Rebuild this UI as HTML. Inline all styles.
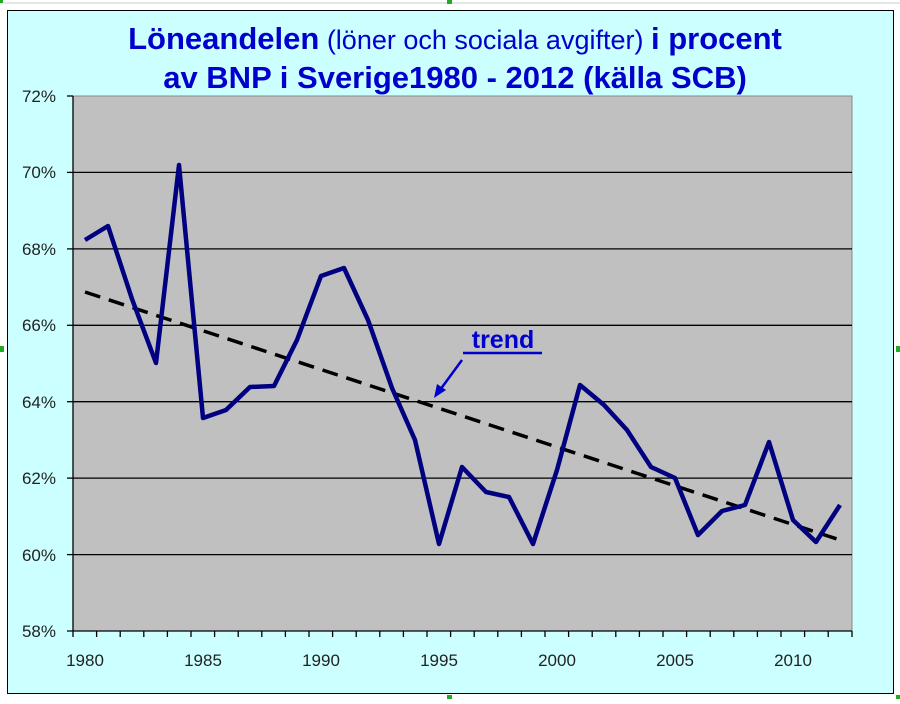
<!DOCTYPE html>
<html><head><meta charset="utf-8"><style>
body{margin:0;background:#fff;width:900px;height:699px;overflow:hidden;font-family:"Liberation Sans",sans-serif}
</style></head><body>
<svg width="900" height="699" xmlns="http://www.w3.org/2000/svg" font-family="Liberation Sans, sans-serif">
<rect x="0" y="0" width="900" height="699" fill="#fff"/>
<line x1="0" y1="3" x2="900" y2="3" stroke="#ccc"/>
<rect x="7.5" y="10.5" width="886" height="683" fill="#ccffff" stroke="#000" stroke-width="1"/>
<rect x="0" y="0" width="3" height="3" fill="#2a2"/>
<rect x="447" y="0" width="5" height="4" fill="#2a2"/>
<rect x="0" y="346" width="4" height="6" fill="#2a2"/>
<rect x="896" y="346" width="4" height="6" fill="#2a2"/>
<rect x="447" y="695" width="5" height="4" fill="#2a2"/>
<rect x="896" y="695" width="4" height="4" fill="#2a2"/>
<text x="455" y="49" text-anchor="middle" font-size="31" fill="#0000cc"><tspan font-weight="bold">Löneandelen</tspan><tspan font-size="27"> (löner och sociala avgifter) </tspan><tspan font-weight="bold">i procent</tspan></text>
<text x="455" y="88" text-anchor="middle" font-size="31" font-weight="bold" fill="#0000cc">av BNP i Sverige1980 - 2012 (källa SCB)</text>
<rect x="73" y="96" width="779" height="535" fill="#c0c0c0" stroke="#888"/>
<g stroke="#000" stroke-width="1.3">
<line x1="73" y1="172.4" x2="852" y2="172.4"/><line x1="73" y1="248.9" x2="852" y2="248.9"/>
<line x1="73" y1="325.3" x2="852" y2="325.3"/><line x1="73" y1="401.7" x2="852" y2="401.7"/>
<line x1="73" y1="478.1" x2="852" y2="478.1"/><line x1="73" y1="554.6" x2="852" y2="554.6"/>
<line x1="73" y1="96" x2="73" y2="631"/><line x1="67" y1="631" x2="852" y2="631"/>
<line x1="67" y1="96" x2="73" y2="96"/><line x1="67" y1="172.4" x2="73" y2="172.4"/><line x1="67" y1="248.9" x2="73" y2="248.9"/><line x1="67" y1="325.3" x2="73" y2="325.3"/><line x1="67" y1="401.7" x2="73" y2="401.7"/><line x1="67" y1="478.1" x2="73" y2="478.1"/><line x1="67" y1="554.6" x2="73" y2="554.6"/>
</g>
<g font-size="17" fill="#222" text-anchor="end">
<text x="56" y="102">72%</text><text x="56" y="178">70%</text><text x="56" y="255">68%</text><text x="56" y="331">66%</text><text x="56" y="408">64%</text><text x="56" y="484">62%</text><text x="56" y="561">60%</text><text x="56" y="637">58%</text>
</g>
<g font-size="17" fill="#222" text-anchor="middle">
<text x="85" y="666">1980</text><text x="203" y="666">1985</text><text x="321" y="666">1990</text><text x="439" y="666">1995</text><text x="557" y="666">2000</text><text x="675" y="666">2005</text><text x="793" y="666">2010</text>
</g>
<g stroke="#000" stroke-width="1.3">
<line x1="73" y1="631" x2="73" y2="637"/><line x1="96.6" y1="631" x2="96.6" y2="637"/><line x1="120.2" y1="631" x2="120.2" y2="637"/><line x1="143.8" y1="631" x2="143.8" y2="637"/><line x1="167.4" y1="631" x2="167.4" y2="637"/><line x1="191" y1="631" x2="191" y2="637"/><line x1="214.6" y1="631" x2="214.6" y2="637"/><line x1="238.2" y1="631" x2="238.2" y2="637"/><line x1="261.8" y1="631" x2="261.8" y2="637"/><line x1="285.4" y1="631" x2="285.4" y2="637"/><line x1="309" y1="631" x2="309" y2="637"/><line x1="332.6" y1="631" x2="332.6" y2="637"/><line x1="356.2" y1="631" x2="356.2" y2="637"/><line x1="379.8" y1="631" x2="379.8" y2="637"/><line x1="403.4" y1="631" x2="403.4" y2="637"/><line x1="427" y1="631" x2="427" y2="637"/><line x1="450.6" y1="631" x2="450.6" y2="637"/><line x1="474.2" y1="631" x2="474.2" y2="637"/><line x1="497.8" y1="631" x2="497.8" y2="637"/><line x1="521.4" y1="631" x2="521.4" y2="637"/><line x1="545" y1="631" x2="545" y2="637"/><line x1="568.6" y1="631" x2="568.6" y2="637"/><line x1="592.2" y1="631" x2="592.2" y2="637"/><line x1="615.8" y1="631" x2="615.8" y2="637"/><line x1="639.4" y1="631" x2="639.4" y2="637"/><line x1="663" y1="631" x2="663" y2="637"/><line x1="686.6" y1="631" x2="686.6" y2="637"/><line x1="710.2" y1="631" x2="710.2" y2="637"/><line x1="733.8" y1="631" x2="733.8" y2="637"/><line x1="757.4" y1="631" x2="757.4" y2="637"/><line x1="781" y1="631" x2="781" y2="637"/><line x1="804.6" y1="631" x2="804.6" y2="637"/><line x1="828.2" y1="631" x2="828.2" y2="637"/><line x1="852" y1="631" x2="852" y2="637"/>
</g>
<line x1="85" y1="292" x2="840" y2="540" stroke="#000" stroke-width="3.5" stroke-dasharray="16,9"/>
<polyline fill="none" stroke="#000080" stroke-width="4.5" stroke-linejoin="round" points="85,240 108,226 132,299 156,363 179,165 203,418 226,410 250,387 274,386 297,340 321,276 344,268 368,320 392,388 415,440 439,544 462,467 486,492 509,497 533,544 557,470 580,385 604,405 627,430 651,467 675,478 698,535 722,511 745,505 769,442 793,520 816,542 840,505"/>
<text x="503" y="348" text-anchor="middle" font-size="25" font-weight="bold" fill="#0000cc">trend</text>
<line x1="463" y1="353" x2="542" y2="353" stroke="#0000cc" stroke-width="2.5"/>
<line x1="462" y1="360" x2="440" y2="390" stroke="#0000cc" stroke-width="2.5"/>
<polygon points="434,398 437,384 446,390" fill="#0000cc"/>
</svg>
</body></html>
